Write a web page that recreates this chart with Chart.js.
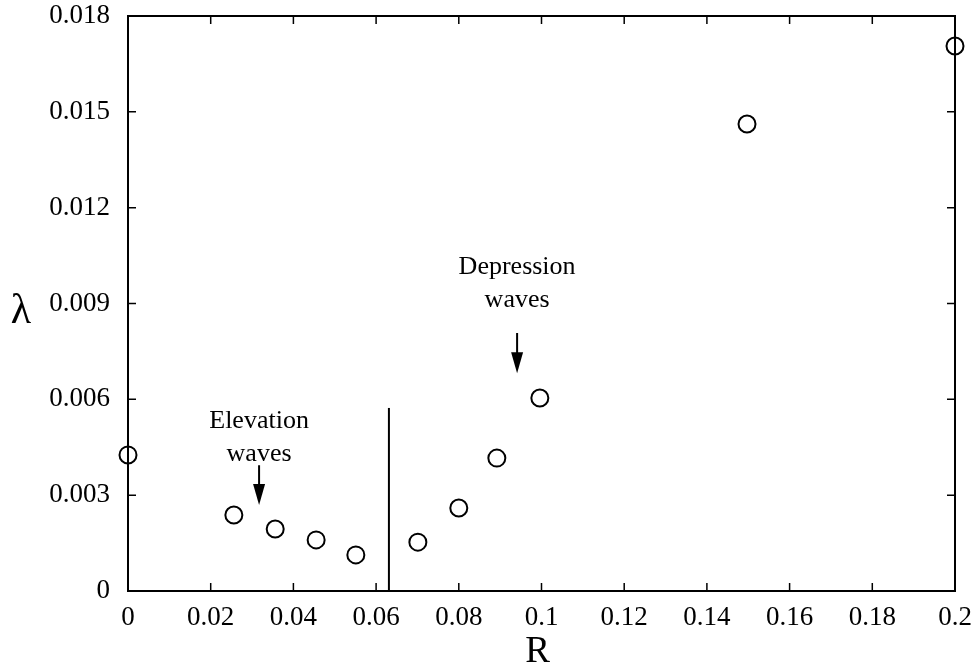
<!DOCTYPE html>
<html lang="en">
<head>
<meta charset="UTF-8">
<title>lambda vs R</title>
<script src="https://cdn.jsdelivr.net/npm/chart.js@4.4.1/dist/chart.umd.min.js"></script>
<style>
  html, body { margin: 0; padding: 0; background: #fff; }
  #wrap { width: 974px; height: 671px; }
</style>
</head>
<body>
<div id="wrap"><canvas id="chart"></canvas></div>
<script>
// values
const rValues = [0, 0.0256, 0.0356, 0.0455, 0.0551, 0.0701, 0.08, 0.0892, 0.0996, 0.1497, 0.2];
const lambdaValues = [0.00426, 0.00238, 0.00194, 0.0016, 0.00113, 0.00153, 0.0026, 0.00416, 0.00604, 0.01462, 0.01706];

const xTicks = [0, 0.02, 0.04, 0.06, 0.08, 0.1, 0.12, 0.14, 0.16, 0.18, 0.2];
const xTickLabels = ['0', '0.02', '0.04', '0.06', '0.08', '0.1', '0.12', '0.14', '0.16', '0.18', '0.2'];
const yTicks = [0, 0.003, 0.006, 0.009, 0.012, 0.015, 0.018];
const yTickLabels = ['0', '0.003', '0.006', '0.009', '0.012', '0.015', '0.018'];

// divider between elevation and depression waves
const dividerR = 0.0631;
const dividerTop = 0.00573;

// annotation arrows: [x, yStart, yTip]
const elevArrow = [0.0317, 0.00394, 0.00269];
const deprArrow = [0.0941, 0.00808, 0.00682];

const serif = '"Liberation Serif", "DejaVu Serif", serif';

const points = rValues.map((r, i) => ({ x: r, y: lambdaValues[i] }));

// box, inward ticks on four sides, arrow heads, notes, axis letters
const framePlugin = {
  id: 'frame',
  afterDraw(chart) {
    const ctx = chart.ctx;
    const a = chart.chartArea;
    const xs = chart.scales.x;
    const ys = chart.scales.y;
    const len = 8;
    ctx.save();
    ctx.strokeStyle = '#000';
    ctx.lineWidth = 2;
    ctx.strokeRect(a.left, a.top, a.right - a.left, a.bottom - a.top);
    ctx.lineWidth = 1.5;
    ctx.beginPath();
    xTicks.forEach(v => {
      const px = xs.getPixelForValue(v);
      ctx.moveTo(px, a.bottom); ctx.lineTo(px, a.bottom - len);
      ctx.moveTo(px, a.top); ctx.lineTo(px, a.top + len);
    });
    yTicks.forEach(v => {
      const py = ys.getPixelForValue(v);
      ctx.moveTo(a.left, py); ctx.lineTo(a.left + len, py);
      ctx.moveTo(a.right, py); ctx.lineTo(a.right - len, py);
    });
    ctx.stroke();

    ctx.fillStyle = '#000';
    [elevArrow, deprArrow].forEach(arr => {
      const px = xs.getPixelForValue(arr[0]);
      const tip = ys.getPixelForValue(arr[2]);
      ctx.beginPath();
      ctx.moveTo(px, tip);
      ctx.lineTo(px - 6, tip - 21);
      ctx.lineTo(px + 6, tip - 21);
      ctx.closePath();
      ctx.fill();
    });

    ctx.font = '26px ' + serif;
    ctx.textAlign = 'center';
    ctx.textBaseline = 'middle';
    const ex = xs.getPixelForValue(elevArrow[0]);
    const ey = ys.getPixelForValue(elevArrow[1]);
    ctx.fillText('Elevation', ex, ey - 44);
    ctx.fillText('waves', ex, ey - 11);
    const dx = xs.getPixelForValue(deprArrow[0]);
    const dy = ys.getPixelForValue(deprArrow[1]);
    ctx.fillText('Depression', dx, dy - 66);
    ctx.fillText('waves', dx, dy - 33);

    ctx.font = '37px ' + serif;
    ctx.fillText('R', (a.left + a.right) / 2 - 4, 652);
    ctx.font = '42px ' + serif;
    ctx.fillText('λ', 21, 312);
    ctx.restore();
  }
};

function shaft(arr) {
  return {
    type: 'line',
    data: [{ x: arr[0], y: arr[1] }, { x: arr[0], y: arr[2] + 0.0004 }],
    borderColor: '#000',
    borderWidth: 2,
    pointRadius: 0,
    showLine: true
  };
}

new Chart(document.getElementById('chart'), {
  type: 'scatter',
  data: {
    datasets: [
      {
        label: 'lambda',
        data: points,
        pointStyle: 'circle',
        pointRadius: 8.5,
        backgroundColor: 'rgba(0,0,0,0)',
        borderColor: '#000',
        borderWidth: 2
      },
      {
        type: 'line',
        data: [{ x: dividerR, y: 0 }, { x: dividerR, y: dividerTop }],
        borderColor: '#000',
        borderWidth: 2,
        pointRadius: 0,
        showLine: true
      },
      shaft(elevArrow),
      shaft(deprArrow)
    ]
  },
  options: {
    responsive: true,
    maintainAspectRatio: false,
    animation: false,
    clip: false,
    layout: { padding: { top: 16, right: 19, left: 0, bottom: 0 } },
    plugins: {
      legend: { display: false },
      tooltip: { enabled: false }
    },
    scales: {
      x: {
        type: 'linear',
        min: 0,
        max: 0.2,
        afterBuildTicks: s => { s.ticks = xTicks.map(v => ({ value: v })); },
        afterFit: s => { s.height = 80; s.paddingRight = 0; s.paddingLeft = 0; },
        grid: { display: false },
        border: { display: false },
        ticks: {
          color: '#000',
          font: { family: serif, size: 27 },
          padding: 3,
          maxRotation: 0,
          autoSkip: false,
          callback: (v, i) => xTickLabels[i]
        }
      },
      y: {
        type: 'linear',
        min: 0,
        max: 0.018,
        afterBuildTicks: s => { s.ticks = yTicks.map(v => ({ value: v })); },
        afterFit: s => { s.width = 128; s.paddingTop = 0; s.paddingBottom = 0; },
        grid: { display: false },
        border: { display: false },
        ticks: {
          color: '#000',
          font: { family: serif, size: 27 },
          padding: 10,
          autoSkip: false,
          callback: (v, i) => yTickLabels[i]
        }
      }
    }
  },
  plugins: [framePlugin]
});
</script>
</body>
</html>
